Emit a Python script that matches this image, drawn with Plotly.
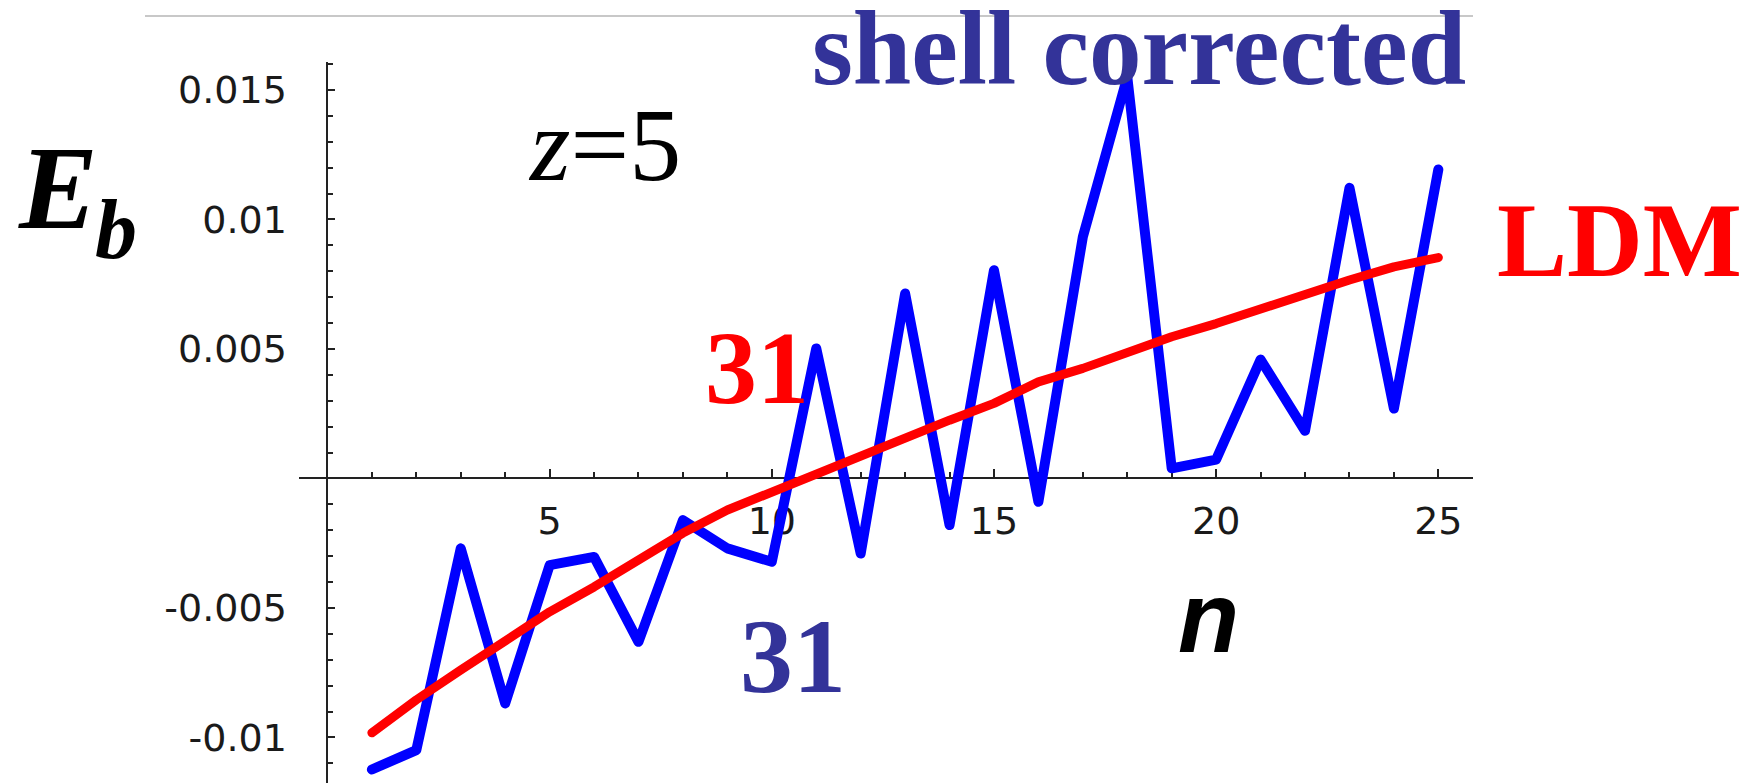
import plotly.graph_objects as go

# Binding energy per step n for z = 5
n = list(range(1, 26))
shell_corrected = [-0.01124, -0.01049, -0.0027, -0.00869, -0.00335, -0.00303, -0.00631,
                   -0.00161, -0.0027, -0.00322, 0.00502, -0.0029, 0.00714, -0.0018,
                   0.00804, -0.0009, 0.00933, 0.0155, 0.00039, 0.00073, 0.00459,
                   0.00184, 0.01122, 0.0027, 0.01193]
ldm = [-0.00982, -0.00855, -0.0074, -0.00624, -0.00515, -0.00419, -0.00313, -0.00211,
       -0.00122, -0.00052, 0.00019, 0.0009, 0.00161, 0.00225, 0.0029, 0.00373,
       0.00425, 0.00489, 0.00547, 0.00598, 0.00656, 0.00712, 0.00766, 0.00817, 0.00853]

x_ticks = [5, 10, 15, 20, 25]
x_tick_labels = ["5", "10", "15", "20", "25"]
y_ticks = [-0.01, -0.005, 0.005, 0.01, 0.015]
y_tick_labels = ["-0.01", "-0.005", "0.005", "0.01", "0.015"]
x_minor = list(range(1, 26))
y_minor = [k / 1000 for k in range(-11, 17) if k != 0]

W, H = 1746, 783
ML, MR, MT, MB = 299, 273, 62, 0
x_range = [-0.64, 25.78]
y_range = [-0.01176, 0.01608]

PW, PH = W - ML - MR, H - MT - MB


def px(xp):
    return (xp - ML) / PW


def py(yp):
    return (H - MB - yp) / PH


fig = go.Figure()
fig.add_trace(go.Scatter(x=n, y=shell_corrected, mode="lines",
                         line=dict(color="#0000ff", width=10), hoverinfo="skip"))
fig.add_trace(go.Scatter(x=n, y=ldm, mode="lines",
                         line=dict(color="#ff0000", width=9), hoverinfo="skip"))

tick_font = dict(family="DejaVu Sans", size=38, color="#1a1a1a")
axis_common = dict(showgrid=False, zeroline=False, showline=True, linecolor="#222222",
                   linewidth=2, ticks="inside", tickcolor="#222222", tickwidth=2,
                   tickfont=tick_font, anchor="free", layer="below traces",
                   tickmode="array")

fig.update_layout(
    width=W, height=H,
    margin=dict(l=ML, r=MR, t=MT, b=MB, pad=0, autoexpand=False),
    paper_bgcolor="white", plot_bgcolor="white",
    showlegend=False,
    xaxis=dict(range=x_range, domain=[0, 1],
               position=(0 - y_range[0]) / (y_range[1] - y_range[0]),
               tickvals=x_ticks, ticktext=x_tick_labels, ticklen=8,
               ticklabelstandoff=9,
               minor=dict(tickmode="array", tickvals=x_minor, ticks="inside",
                          ticklen=5, tickcolor="#222222", tickwidth=2),
               **axis_common),
    yaxis=dict(range=y_range, domain=[0, 1],
               position=(0 - x_range[0]) / (x_range[1] - x_range[0]),
               tickvals=y_ticks, ticktext=y_tick_labels, ticklen=7,
               ticklabelstandoff=32,
               minor=dict(tickmode="array", tickvals=y_minor, ticks="inside",
                          ticklen=5, tickcolor="#222222", tickwidth=2),
               **axis_common),
)

# thin rule across the top of the slide
fig.add_shape(type="line", xref="paper", yref="paper",
              x0=px(145), x1=px(1473), y0=py(16), y1=py(16),
              line=dict(color="#c8c8c8", width=2))

serif = "Liberation Serif, Times New Roman, serif"
navy = "#333399"


def label(text, xp, yp, size, color, family=serif):
    fig.add_annotation(text=text, xref="paper", yref="paper", x=px(xp), y=py(yp),
                       xanchor="center", yanchor="middle", showarrow=False,
                       font=dict(family=family, size=size, color=color))


label("<b>shell corrected</b>", 1139, 48, 105, navy)
label("<b>LDM</b>", 1619, 240, 105, "#ff0000")
label("<b>31</b>", 757, 367, 104, "#ff0000")
label("<b>31</b>", 793, 656, 106, navy)
label("<i>z</i>=5", 604, 145, 104, "black")
label("<b><i>E</i></b>", 58, 188, 118, "black")
label("<b><i>b</i></b>", 116, 229, 84, "black")
label("<b><i>n</i></b>", 1208, 617, 100, "black",
      family="Liberation Sans, Arial, sans-serif")

round_joins = ("var s=document.createElement('style');"
               "s.textContent='.scatterlayer .js-line{stroke-linejoin:round;stroke-linecap:round}';"
               "document.head.appendChild(s);")

fig.write_html("out.html", config={"displayModeBar": False}, post_script=round_joins)
